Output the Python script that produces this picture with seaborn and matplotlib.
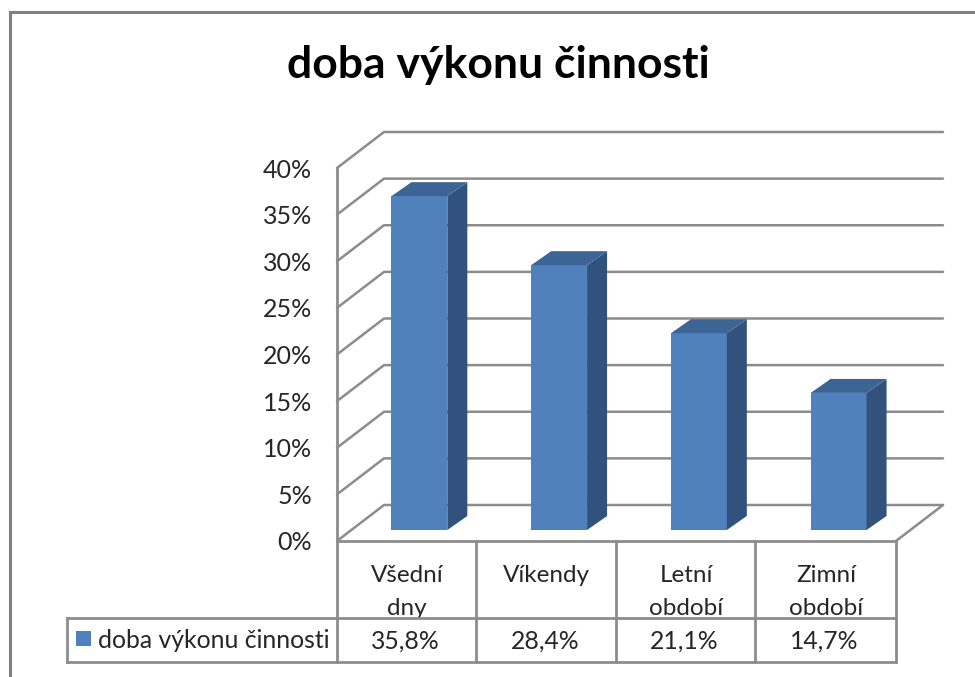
import numpy as np
import pandas as pd
import matplotlib
matplotlib.use("Agg")
import matplotlib.pyplot as plt
from matplotlib.patches import Polygon, Rectangle
from matplotlib.transforms import Affine2D
from matplotlib.ticker import FuncFormatter
import seaborn as sns

categories = ["Všední\ndny", "Víkendy", "Letní\nobdobí", "Zimní\nobdobí"]
values = [35.8, 28.4, 21.1, 14.7]
y_ticks = [0, 5, 10, 15, 20, 25, 30, 35, 40]
series_name = "doba výkonu činnosti"
title = "doba výkonu činnosti"

W, H = 975, 677
GRID = "#8c8c8c"
BLUE = "#4f81bd"
TOP = "#3c6495"
SIDE = "#31527c"

sns.set_theme(style="white")
plt.rcParams["font.family"] = ["Lato", "DejaVu Sans"]

fig = plt.figure(figsize=(W / 100, H / 100), dpi=100, facecolor="white")

# plot box in pixels: front plane of the fake 3d chart
left, right, y0, y40 = 337, 896, 541, 168
ax = fig.add_axes([left / W, 1 - y0 / H, (right - left) / W, (y0 - y40) / H])
df = pd.DataFrame({"cat": categories, "val": values})
sns.barplot(data=df, x="cat", y="val", color=BLUE, saturation=1, width=0.4, ax=ax, zorder=3,
            linewidth=0, edgecolor="none")
ax.set_xlim(-0.5, 3.5)
ax.set_ylim(0, 40)
ax.set_xlabel("")
ax.set_ylabel("")

# pixels to data units
px_x = 4 / (right - left)
px_y = 40 / (y0 - y40)
depth_x, depth_y = 47 * px_x, 36 * px_y

# walls
for t in y_ticks:
    xs = [-0.5, -0.5 + depth_x, 3.5 + depth_x]
    ys = [t, t + depth_y, t + depth_y]
    ax.plot(xs, ys, color=GRID, lw=1.8, clip_on=False, zorder=1)
ax.plot([3.5, 3.5 + depth_x], [0, depth_y], color=GRID, lw=1.8, clip_on=False, zorder=1)

# move bars back and add their side and top faces
shift_x, shift_y = 12.5 * px_x, 11 * px_y
side_x, side_y = 20 * px_x, 14 * px_y
for bar, v in zip(ax.patches, values):
    bar.set_x(bar.get_x() + shift_x)
    bar.set_y(shift_y)
    bar.set_clip_on(False)
    x0 = bar.get_x()
    x1 = x0 + bar.get_width()
    y1 = shift_y + v
    ax.add_patch(Polygon([(x1, shift_y), (x1 + side_x, shift_y + side_y),
                          (x1 + side_x, y1 + side_y), (x1, y1)],
                         fc=SIDE, ec="none", clip_on=False, zorder=3))
    ax.add_patch(Polygon([(x0, y1), (x1, y1), (x1 + side_x, y1 + side_y), (x0 + side_x, y1 + side_y)],
                         fc=TOP, ec="none", clip_on=False, zorder=3))

ax.set_yticks(y_ticks)
ax.yaxis.set_major_formatter(FuncFormatter(lambda v, pos: f"{v:.0f}%"))
ax.tick_params(axis="y", length=0, pad=18, labelsize=18, labelcolor="#262626")
ax.tick_params(axis="x", length=0, pad=17.5, labelsize=17.5, labelcolor="#262626")
for lab in ax.get_xticklabels():
    lab.set_linespacing(1.7)
for s in ax.spines.values():
    s.set_visible(False)

# everything below is placed in image pixels
to_px = Affine2D().scale(1, -1).translate(0, H)


def line(xs, ys, color=GRID, lw=2.0, z=5):
    ax.plot(xs, ys, color=color, lw=lw, transform=to_px, clip_on=False, zorder=z,
            solid_capstyle="projecting")


# table under the chart
col_x = [337, 476, 616, 755, 896]
ax.add_patch(Rectangle((67, 618), 829, 44, fc="white", ec="none", transform=to_px,
                       clip_on=False, zorder=4))
line([337, 896], [541, 541])
line([67, 896], [618, 618])
line([67, 896], [662, 662])
line([67, 67], [618, 662])
for x in col_x:
    line([x, x], [541, 662])
line([337, 337], [168, 541])

ax.add_patch(Rectangle((76, 631), 15, 15, fc=BLUE, ec="none", transform=to_px,
                       clip_on=False, zorder=6))
ax.text(98, 640, series_name, transform=to_px, fontsize=17.8, color="#262626",
        va="center", ha="left", zorder=6)
for i, v in enumerate(values):
    ax.text((col_x[i] + col_x[i + 1]) / 2 - 1, 641, f"{v:.1f}%".replace(".", ","), transform=to_px,
            fontsize=17.8, color="#262626", va="center", ha="center", zorder=6)

# outer frame, cut off by the image on the right and bottom
line([10, 10], [12, H + 5], color="#808080", lw=2.2)
line([10, W + 5], [12, 12], color="#808080", lw=2.2)

ax.text(498, 65, title, transform=to_px, fontsize=32, fontweight="bold", color="black",
        va="center", ha="center", zorder=6)

fig.savefig("out.png", dpi=100)
